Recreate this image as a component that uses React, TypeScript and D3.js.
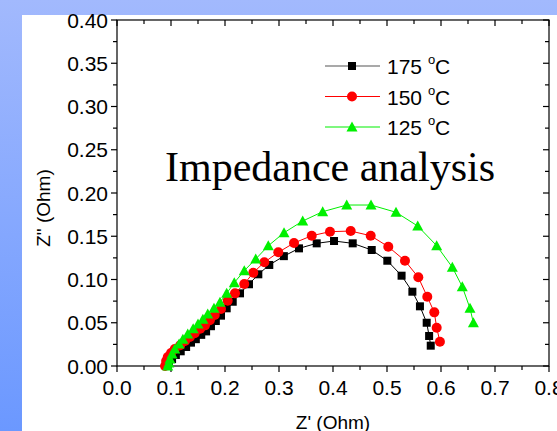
import React from 'react';
import { scaleLinear, line, range } from 'd3';

// Nyquist data, [Z', Z''] in Ohm
const z175 = [
  [0.093, 0], [0.096, 0.0035], [0.102, 0.008], [0.109, 0.0127], [0.118, 0.017], [0.128, 0.022],
  [0.137, 0.027], [0.146, 0.031], [0.156, 0.036], [0.165, 0.040], [0.174, 0.046], [0.183, 0.052],
  [0.1926, 0.0582], [0.2031, 0.0667], [0.2143, 0.0743], [0.2278, 0.084], [0.2444, 0.0945],
  [0.2617, 0.106], [0.282, 0.1168], [0.309, 0.127], [0.337, 0.136], [0.3698, 0.1418],
  [0.4019, 0.1445], [0.4365, 0.1418], [0.4717, 0.1341], [0.5006, 0.1217], [0.527, 0.1044],
  [0.547, 0.0859], [0.561, 0.069], [0.5735, 0.050], [0.578, 0.0347], [0.581, 0.0235],
];
const z150 = [
  [0.089, 0], [0.091, 0.0058], [0.094, 0.0104], [0.1, 0.015], [0.107, 0.0197], [0.117, 0.024],
  [0.126, 0.029], [0.135, 0.0335], [0.144, 0.038], [0.154, 0.043], [0.163, 0.047], [0.172, 0.053],
  [0.181, 0.059], [0.1926, 0.0659], [0.205, 0.0755], [0.2185, 0.084], [0.2357, 0.0948],
  [0.2524, 0.1079], [0.2728, 0.1199], [0.2987, 0.1314], [0.3278, 0.1422], [0.3606, 0.1506],
  [0.3944, 0.1553], [0.4328, 0.156], [0.4698, 0.1506], [0.5024, 0.1379], [0.5333, 0.1217],
  [0.558, 0.1025], [0.5746, 0.080], [0.5876, 0.062], [0.592, 0.0443], [0.598, 0.0281],
];
const z125 = [
  [0.094, 0], [0.096, 0.0035], [0.098, 0.008], [0.102, 0.0139], [0.107, 0.0197], [0.115, 0.0254],
  [0.122, 0.031], [0.131, 0.037], [0.141, 0.043], [0.15, 0.0486], [0.159, 0.054], [0.168, 0.060],
  [0.1796, 0.0667], [0.1907, 0.0736], [0.2031, 0.084], [0.2172, 0.0963], [0.2357, 0.1102],
  [0.2569, 0.1237], [0.2802, 0.139], [0.3093, 0.1541], [0.3439, 0.1676], [0.3809, 0.1784],
  [0.4254, 0.1861], [0.4704, 0.1861], [0.5167, 0.1777], [0.5569, 0.1618], [0.592, 0.1391],
  [0.621, 0.1141], [0.6394, 0.0917], [0.6537, 0.0667], [0.66, 0.050],
];

const xTicks = [0.0, 0.1, 0.2, 0.3, 0.4, 0.5, 0.6, 0.7, 0.8];
const yTicks = [0.0, 0.05, 0.1, 0.15, 0.2, 0.25, 0.3, 0.35, 0.4];
const labels = ['175', '150', '125'];

const W = 557, H = 431;
const m = { left: 117, right: 549, top: 20, bottom: 366 };

const series = [
  { data: z175, color: '#000000', legendLine: '#555555', shape: 'square' },
  { data: z150, color: '#ff0000', legendLine: '#ff0000', shape: 'circle' },
  { data: z125, color: '#00f000', legendLine: '#00f000', shape: 'triangle' },
];

const Marker = ({ x, y, shape, color }: { x: number; y: number; shape: string; color: string }) => {
  if (shape === 'square') return <rect x={x - 4} y={y - 4} width={8} height={8} fill={color} />;
  if (shape === 'circle') return <circle cx={x} cy={y} r={5} fill={color} />;
  return <path d={`M${x},${y - 5.5} L${x + 5.5},${y + 4.5} L${x - 5.5},${y + 4.5} Z`} fill={color} />;
};

export default function App() {
  const x = scaleLinear().domain([0, 0.8]).range([m.left, m.right]);
  const y = scaleLinear().domain([0, 0.4]).range([m.bottom, m.top]);
  const path = line<number[]>().x(d => x(d[0])).y(d => y(d[1]));
  const xMinor = range(0.05, 0.8, 0.1);
  const yMinor = range(0.025, 0.4, 0.05);
  const font = 'Arial, "Liberation Sans", sans-serif';

  return (
    <svg width={W} height={H} style={{ position: 'absolute', left: 0, top: 0 }}>
      <defs>
        <linearGradient id="bg" x1="0" y1="0" x2="0" y2="1">
          <stop offset="0" stopColor="#a2b9fd" />
          <stop offset="1" stopColor="#6b98ff" />
        </linearGradient>
      </defs>
      <rect width={W} height={H} fill="url(#bg)" />
      <rect x={22} y={15} width={W - 22} height={H - 15} fill="#ffffff" />

      <g stroke="#000" strokeWidth={1.2} fill="none">
        <rect x={m.left} y={m.top} width={m.right - m.left} height={m.bottom - m.top} />
        {xTicks.map(t => (
          <g key={'xt' + t}>
            <line x1={x(t)} x2={x(t)} y1={m.bottom} y2={m.bottom + 6} />
            <line x1={x(t)} x2={x(t)} y1={m.top} y2={m.top + 6} />
          </g>
        ))}
        {xMinor.map(t => (
          <g key={'xm' + t}>
            <line x1={x(t)} x2={x(t)} y1={m.bottom} y2={m.bottom + 4} />
            <line x1={x(t)} x2={x(t)} y1={m.top} y2={m.top + 4} />
          </g>
        ))}
        {yTicks.map(t => (
          <g key={'yt' + t}>
            <line x1={m.left - 6} x2={m.left} y1={y(t)} y2={y(t)} />
            <line x1={m.right - 6} x2={m.right} y1={y(t)} y2={y(t)} />
          </g>
        ))}
        {yMinor.map(t => (
          <g key={'ym' + t}>
            <line x1={m.left - 4} x2={m.left} y1={y(t)} y2={y(t)} />
            <line x1={m.right - 4} x2={m.right} y1={y(t)} y2={y(t)} />
          </g>
        ))}
      </g>

      <g fontFamily={font} fontSize={21} fill="#000">
        {xTicks.map(t => (
          <text key={'xl' + t} x={x(t)} y={m.bottom + 29} textAnchor="middle">{t.toFixed(1)}</text>
        ))}
        {yTicks.map(t => (
          <text key={'yl' + t} x={m.left - 9} y={y(t) + 7.5} textAnchor="end">{t.toFixed(2)}</text>
        ))}
        <text x={333} y={429} textAnchor="middle" fontSize={19}>Z' (Ohm)</text>
        <text transform={`translate(50,208) rotate(-90)`} textAnchor="middle" fontSize={19}>Z" (Ohm)</text>
      </g>

      {series.map(s => (
        <g key={s.shape}>
          <path d={path(s.data) || ''} fill="none" stroke={s.color} strokeWidth={1} />
          {s.data.map((d, i) => (
            <Marker key={i} x={x(d[0])} y={y(d[1])} shape={s.shape} color={s.color} />
          ))}
        </g>
      ))}

      <text x={165} y={181} fontFamily='"Liberation Serif", "Times New Roman", serif' fontSize={42}>Impedance analysis</text>

      {series.map((s, i) => {
        const ly = 66 + i * 30.5;
        return (
          <g key={'lg' + i}>
            <line x1={325} x2={380} y1={ly} y2={ly} stroke={s.legendLine} strokeWidth={1.2} />
            <Marker x={352} y={ly} shape={s.shape} color={s.color} />
            <text x={387} y={ly + 8} fontFamily={font} fontSize={21}>
              {labels[i] + ' '}
              <tspan fontSize={13} dy={-10}>o</tspan>
              <tspan dy={10}>C</tspan>
            </text>
          </g>
        );
      })}
    </svg>
  );
}
